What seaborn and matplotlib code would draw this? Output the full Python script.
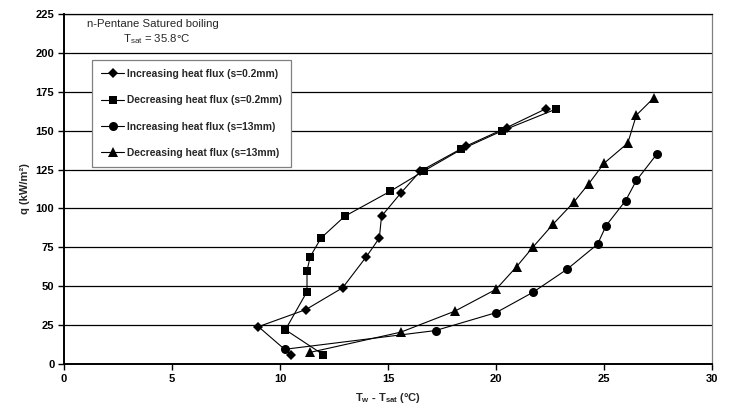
import matplotlib
import matplotlib.pyplot as plt
import seaborn as sns

matplotlib.use("Agg")

# readings: wall superheat (degC) vs heat flux (kW/m2)
inc_02_x = [10.5, 9.0, 11.2, 12.9, 14.0, 14.6, 14.7, 15.6, 16.5, 18.6, 20.5, 22.3]
inc_02_y = [6, 24, 35, 49, 69, 81, 95, 110, 124, 140, 152, 164]

dec_02_x = [22.8, 20.3, 18.4, 16.65, 15.1, 13.0, 11.9, 11.4, 11.25, 11.25, 10.25, 12.0]
dec_02_y = [164, 150, 138, 124, 111, 95, 81, 69, 60, 46.5, 22, 6]

inc_13_x = [10.25, 17.2, 20.0, 21.7, 23.3, 24.7, 25.1, 26.0, 26.5, 27.45]
inc_13_y = [9.5, 21.5, 33, 46, 61, 77, 89, 105, 118, 135]

dec_13_x = [27.3, 26.5, 26.1, 25.0, 24.3, 23.6, 22.65, 21.7, 20.95, 20.0, 18.1, 15.6, 11.4]
dec_13_y = [171, 160, 142, 129, 116, 104, 90, 75, 62.5, 48, 34, 20.5, 7.5]

series = [
    ("Increasing heat flux (s=0.2mm)", inc_02_x, inc_02_y, "D", 5.2),
    ("Decreasing heat flux (s=0.2mm)", dec_02_x, dec_02_y, "s", 6.0),
    ("Increasing heat flux (s=13mm)", inc_13_x, inc_13_y, "o", 6.5),
    ("Decreasing heat flux (s=13mm)", dec_13_x, dec_13_y, "^", 6.5),
]

x_ticks = [0, 5, 10, 15, 20, 25, 30]
y_ticks = [0, 25, 50, 75, 100, 125, 150, 175, 200, 225]

sns.set_theme(style="white")
plt.rcParams["font.family"] = ["Liberation Sans", "DejaVu Sans"]
plt.rcParams["mathtext.fontset"] = "custom"
plt.rcParams["mathtext.rm"] = "Liberation Sans"
plt.rcParams["mathtext.bf"] = "Liberation Sans:bold"

fig = plt.figure(figsize=(7.3, 4.11), dpi=100)
ax = fig.add_axes([64 / 730, 47 / 411, 648 / 730, 350 / 411])

for name, xs, ys, mk, ms in series:
    sns.lineplot(
        x=xs,
        y=ys,
        sort=False,
        estimator=None,
        color="black",
        linewidth=0.8,
        marker=mk,
        markersize=ms,
        markeredgewidth=0,
        label=name,
        ax=ax,
    )

ax.set_xlim(0, 30)
ax.set_ylim(0, 225)
ax.set_xticks(x_ticks)
ax.set_yticks(y_ticks)
ax.yaxis.grid(True, color="black", linewidth=0.9)
ax.xaxis.grid(False)
ax.tick_params(axis="both", direction="out", length=4, width=1, colors="black",
               labelsize=8, pad=3, left=True, bottom=True)
for lbl in ax.get_xticklabels() + ax.get_yticklabels():
    lbl.set_fontweight("bold")

ax.spines["left"].set_color("black")
ax.spines["left"].set_linewidth(1.4)
ax.spines["bottom"].set_color("black")
ax.spines["bottom"].set_linewidth(1.4)
ax.spines["top"].set_color("black")
ax.spines["top"].set_linewidth(0.9)
ax.spines["right"].set_color("#808080")
ax.spines["right"].set_linewidth(0.9)

ax.set_xlabel(r"T$_\mathbf{w}$ - T$_\mathbf{sat}$ (°C)", fontsize=8,
              fontweight="bold", labelpad=5)
ax.set_ylabel("q (kW/m²)", fontsize=8, fontweight="bold", labelpad=4)

fig.text(87 / 730, 1 - 24 / 411, "n-Pentane Satured boiling", fontsize=8.2,
         va="center", ha="left")
fig.text(123 / 730, 1 - 39 / 411, r"T$_{\mathrm{sat}}$ = 35.8°C", fontsize=8.2,
         va="center", ha="left")

leg = ax.legend(
    loc="upper left",
    bbox_to_anchor=(92 / 730, 1 - 60 / 411),
    bbox_transform=fig.transFigure,
    borderaxespad=0,
    fancybox=False,
    frameon=True,
    edgecolor="#808080",
    facecolor="white",
    framealpha=1,
    prop={"weight": "bold", "size": 7.4},
    handlelength=2.3,
    handletextpad=0.3,
    labelspacing=1.6,
    borderpad=0.85,
)
leg.get_frame().set_linewidth(0.9)

fig.savefig("out.png", dpi=100)
plt.close(fig)
